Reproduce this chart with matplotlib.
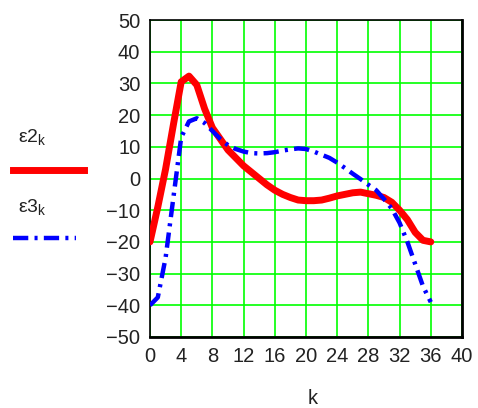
import matplotlib
matplotlib.use("Agg")
import matplotlib.pyplot as plt
from matplotlib.lines import Line2D

plt.rcParams['font.family'] = ['Liberation Sans', 'DejaVu Sans']
plt.rcParams['mathtext.default'] = 'regular'
plt.rcParams['lines.scale_dashes'] = False

# k = 0..36
k = list(range(37))
eps2 = [-20, -9, 3, 17, 30.5, 32.3, 29.5, 22, 16, 12.5, 9, 6.5, 4, 2, 0, -2, -3.7, -5,
        -6, -6.8, -7, -7, -6.8, -6.2, -5.5, -5, -4.5, -4.3, -4.8, -5.3, -6, -7.5,
        -10, -13, -17, -19.5, -20]
eps3 = [-40, -37.5, -25, -6, 13, 18, 19, 17.5, 15, 12.5, 10.5, 9.3, 8.5, 8, 7.9, 8,
        8.3, 8.8, 9.2, 9.5, 9.3, 8.5, 7.5, 6.5, 5, 3.3, 1.5, -0.2, -2, -3.7, -6.5,
        -9.5, -14, -20, -27, -34, -39]

x_ticks = list(range(0, 41, 4))
y_ticks = list(range(-50, 51, 10))

W, H = 478, 408
fig = plt.figure(figsize=(W / 100, H / 100), dpi=100)
ax = fig.add_axes([150 / W, 1 - 337 / H, 312 / W, 317 / H])

red_style = dict(color='#ff0000', lw=5, solid_capstyle='round', solid_joinstyle='round')
blue_style = dict(color='#0000ff', lw=3.2, dashes=(11, 4.5, 2.2, 4.5))

ax.plot(k, eps2, zorder=3, **red_style)
ax.plot(k, eps3, zorder=3, **blue_style)

ax.set_xlim(0, 40)
ax.set_ylim(-50, 50)
ax.set_xticks(x_ticks)
ax.set_yticks(y_ticks)
ax.set_yticklabels([str(v).replace('-', '\u2212') for v in y_ticks])
ax.grid(True, color='#00ff00', lw=1.2)
ax.tick_params(length=0, labelsize=14.5, pad=7, colors='#222222')
for s in ax.spines.values():
    s.set_color('black')
    s.set_linewidth(1.2)
ax.spines['right'].set_linewidth(2)
ax.spines['bottom'].set_linewidth(2)

fig.text(313 / W, 1 - 398 / H, 'k', ha='center', va='center', fontsize=14.5, color='#222222')

# legend on the left
fig.text(18 / W, 1 - 137 / H, 'ε2$_{k}$', ha='left', va='center', fontsize=14, color='#222222')
fig.text(18 / W, 1 - 207 / H, 'ε3$_{k}$', ha='left', va='center', fontsize=14, color='#222222')
fig.add_artist(Line2D([13 / W, 84 / W], [1 - 170 / H, 1 - 170 / H], transform=fig.transFigure,
                      color='#ff0000', lw=5))
fig.add_artist(Line2D([13 / W, 76 / W], [1 - 238 / H, 1 - 238 / H], transform=fig.transFigure,
                      **blue_style))

fig.savefig('out.png', dpi=100)
